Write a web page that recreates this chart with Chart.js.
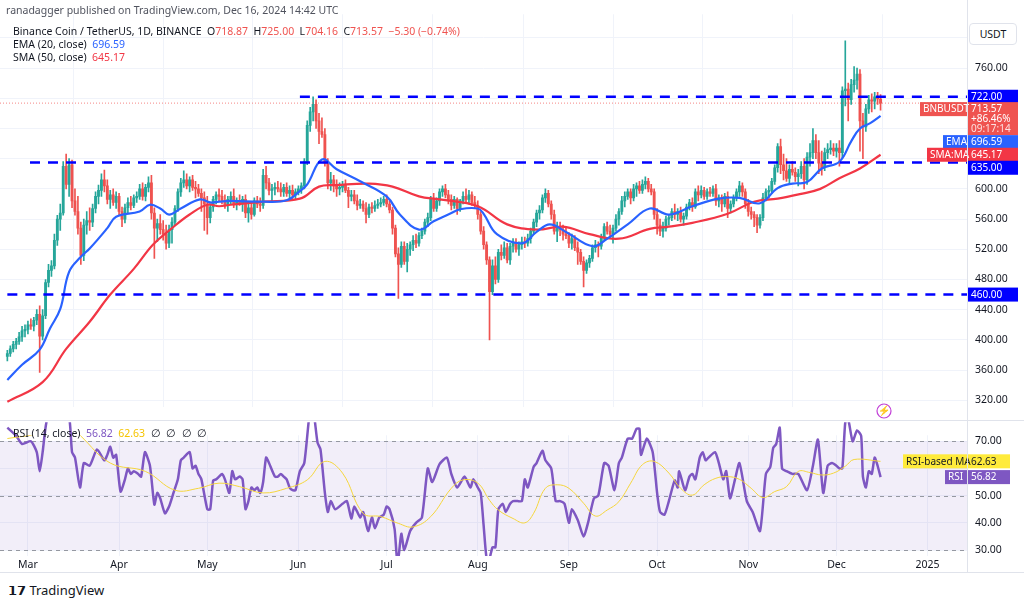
<!DOCTYPE html>
<html><head><meta charset="utf-8">
<script src="https://cdn.jsdelivr.net/npm/chart.js@4/dist/chart.umd.min.js"></script>
<style>
  body { margin: 0; width: 1024px; height: 603px; background: #fff; font-family: "Noto Sans", Roboto, sans-serif; position: relative; overflow: hidden; }
  canvas { position: absolute; left: 0; }
  #price { top: 0; } #rsi { top: 421px; }
  .t { position: absolute; font-size: 10.5px; color: #131722; white-space: nowrap; }
  .up { color: #ef5350; } .b { color: #2962ff; } .r { color: #f23645; }
  #usdt { position: absolute; left: 969px; top: 23px; width: 46px; height: 20px; border: 1px solid #e0e3eb; border-radius: 4px; font-size: 10.5px; text-align: center; line-height: 20px; background: #fff; color: #131722; }
  #frame { position: absolute; left: 0; top: 0; width: 1024px; height: 573px; border-bottom: 1px solid #e0e3eb; box-sizing: border-box; pointer-events: none; }
  #vline { position: absolute; left: 967px; top: 0; width: 1px; height: 573px; background: #e0e3eb; }
  #sep { position: absolute; left: 0; top: 420px; width: 1024px; height: 1px; background: #e0e3eb; }
</style></head>
<body>
<canvas id="price" width="1024" height="421"></canvas>
<canvas id="rsi" width="1024" height="152"></canvas>
<div id="frame"></div><div id="vline"></div><div id="sep"></div>
<div class="t" style="left:6px;top:3px;color:#50535e">ranadagger published on TradingView.com, Dec 16, 2024 14:42 UTC</div>
<div class="t" style="left:13px;top:24px">Binance Coin / TetherUS, 1D, BINANCE &nbsp;O<span class="up">718.87</span> &nbsp;H<span class="up">725.00</span> &nbsp;L<span class="up">704.16</span> &nbsp;C<span class="up">713.57 &nbsp;−5.30 (−0.74%)</span></div>
<div class="t" style="left:13px;top:37px">EMA (20, close) &nbsp;<span class="b">696.59</span></div>
<div class="t" style="left:13px;top:50px">SMA (50, close) &nbsp;<span class="r">645.17</span></div>
<div class="t" style="left:13px;top:426px">RSI (14, close) &nbsp;<span style="color:#7e57c2">56.82</span> &nbsp;<span style="color:#f5c400">62.63</span> &nbsp;∅ &nbsp;∅ &nbsp;∅ &nbsp;∅</div>
<div id="usdt">USDT</div>
<div class="t" style="left:8px;top:581px;font-size:13px;font-weight:bold">𝟭𝟳 <span style="font-weight:normal">TradingView</span></div>
<script>
// daily candles [open, high, low, close], first one is Feb 23 (day -7, Mar 1 = day 0)
const firstDay = -7;
const feb = [[378,386,372,382],[382,392,378,388],[388,398,384,394],[394,402,388,398],[398,410,394,404],[404,418,398,412],[412,420,404,414]];
const mar = [[414,425,408,420],[420,428,414,418],[418,430,412,426],[426,440,420,434],[434,445,357,405],[405,440,400,432],[432,480,428,476],[476,500,470,492],[492,505,484,498],[498,540,494,532],[532,565,525,560],[560,580,545,568],[568,636,565,630],[630,646,600,606],[606,640,590,632],[632,638,575,584],[584,600,565,570],[570,590,540,548],[548,556,500,512],[512,560,505,552],[552,570,540,558],[558,575,545,556],[556,580,550,574],[574,596,568,590],[590,605,580,598],[598,620,590,612],[612,625,596,604],[604,612,580,586],[586,598,574,592],[592,600,578,582],[582,596,574,590]];
const apr = [[590,594,565,570],[570,576,550,560],[560,580,555,575],[575,588,568,582],[582,590,572,578],[578,592,575,588],[588,596,582,590],[590,606,586,600],[600,608,585,590],[590,606,584,602],[602,616,596,608],[608,618,560,568],[568,575,508,548],[548,560,530,554],[554,566,540,546],[546,558,532,540],[540,552,520,528],[528,552,522,546],[546,562,528,556],[556,578,552,574],[574,600,570,596],[596,614,590,608],[608,624,602,612],[612,620,600,604],[604,616,596,612],[612,618,598,602],[602,610,588,600],[600,606,590,594],[594,600,570,588],[588,596,545,580]];
const may = [[580,590,540,562],[562,580,555,576],[576,590,570,586],[586,596,580,592],[592,600,584,590],[590,598,580,584],[584,592,574,578],[578,590,570,586],[586,596,580,590],[590,600,575,580],[580,588,572,584],[584,592,578,580],[580,590,570,586],[586,592,562,568],[568,580,556,575],[575,582,560,566],[566,588,564,584],[584,590,575,580],[580,588,570,578],[578,626,574,618],[618,630,600,608],[608,614,592,598],[598,606,582,600],[600,608,592,602],[602,610,596,600],[600,608,590,596],[596,606,590,602],[602,608,590,594],[594,604,588,598],[598,605,585,592],[592,600,586,596]];
const jun = [[596,604,592,600],[600,608,594,604],[604,640,600,636],[636,690,632,684],[684,708,676,702],[702,722,690,712],[712,718,680,690],[690,700,660,676],[676,694,668,672],[672,680,630,634],[634,640,600,608],[608,622,598,612],[612,618,596,604],[604,612,590,600],[600,608,592,602],[602,610,596,606],[606,612,595,598],[598,602,575,590],[590,598,584,592],[592,598,580,584],[584,592,572,578],[578,586,574,580],[580,584,570,574],[574,582,555,566],[566,580,562,576],[576,582,568,574],[574,584,570,578],[578,586,574,580],[580,588,576,582],[582,590,578,586]];
const jul = [[586,592,576,580],[580,584,568,572],[572,576,540,548],[548,552,510,514],[514,522,455,500],[500,530,496,524],[524,530,500,504],[504,528,490,520],[520,530,512,526],[526,538,518,532],[532,540,522,528],[528,542,524,538],[538,548,534,544],[544,560,540,556],[556,568,550,562],[562,590,558,586],[586,594,570,574],[574,588,570,584],[584,600,578,596],[596,604,590,600],[600,606,588,592],[592,598,580,586],[586,592,572,578],[578,590,574,586],[586,588,566,574],[574,586,570,584],[584,596,580,590],[590,600,582,586],[586,598,580,592],[592,596,578,582],[582,590,574,578]];
const aug = [[578,584,560,566],[566,570,540,544],[544,550,520,526],[526,530,500,506],[506,510,400,464],[464,506,460,498],[498,510,474,480],[480,520,476,516],[516,526,506,512],[512,530,508,522],[522,528,502,506],[506,528,500,524],[524,534,516,528],[528,534,516,520],[520,530,512,526],[526,536,520,530],[530,536,522,528],[528,540,524,534],[534,548,528,544],[544,560,540,556],[556,572,550,568],[568,578,560,572],[572,592,568,588],[588,600,582,594],[594,598,576,580],[580,584,560,566],[566,572,540,544],[544,556,530,550],[550,556,538,546],[546,552,532,540],[540,548,534,538]];
const sep = [[538,542,522,528],[528,540,520,534],[534,538,518,522],[522,530,500,516],[516,520,500,504],[504,510,470,492],[492,506,488,502],[502,512,496,508],[508,526,504,522],[522,532,516,526],[526,530,510,524],[524,540,520,536],[536,554,532,550],[550,556,540,544],[544,552,536,540],[540,552,528,548],[548,566,544,560],[560,574,552,570],[570,590,566,584],[584,596,576,590],[590,600,586,596],[596,600,580,588],[588,606,584,600],[600,608,590,604],[604,610,594,598],[598,612,594,606],[606,616,600,610],[610,614,596,600],[600,606,592,596],[596,600,560,566]];
const oct = [[566,574,540,552],[552,560,538,544],[544,556,536,548],[548,564,544,560],[560,566,552,562],[562,574,558,570],[570,580,560,566],[566,574,558,570],[570,576,556,560],[560,568,552,564],[564,580,560,576],[576,586,572,582],[582,588,570,576],[576,600,574,596],[596,604,584,592],[592,604,588,598],[598,602,586,590],[590,600,586,596],[596,602,590,594],[594,604,590,600],[600,606,578,584],[584,592,576,588],[588,592,570,580],[580,594,576,590],[590,596,562,574],[574,584,568,580],[580,592,576,588],[588,600,584,596],[596,610,590,604],[604,608,590,596],[596,600,574,580]];
const nov = [[580,586,564,570],[570,576,560,566],[566,570,550,562],[562,566,542,552],[552,566,548,562],[562,594,558,588],[588,600,584,596],[596,604,588,598],[598,614,594,610],[610,632,606,628],[628,660,622,656],[656,666,620,632],[632,646,612,624],[624,640,610,614],[614,632,606,626],[626,636,618,622],[622,628,610,616],[616,626,604,620],[620,636,614,630],[630,640,600,612],[612,648,606,642],[642,660,630,648],[648,680,640,664],[664,672,640,648],[648,664,620,634],[634,650,618,628],[628,654,624,648],[648,660,640,652],[652,664,646,654],[654,660,644,650]];
const dec = [[650,660,642,654],[654,664,630,648],[648,735,640,730],[730,796,710,732],[732,740,690,718],[718,745,712,738],[738,762,728,744],[744,760,732,752],[752,758,650,690],[690,700,640,682],[682,712,676,706],[706,724,700,718],[718,726,702,716],[716,728,706,722],[722,728,712,719],[718.87,725,704.16,713.57]];

const emaDays = [-7,-2,4,7.5,11,14,18,21,27,30,38,41.5,45,48,52,58.5,62,65,69,80,88,92.5,95,100,105,113,122,126.5,133,138,143.5,147,153,155,159.5,168,173,177.5,183,192,197,204,211.5,218,226,235,242,249,255,260,265,270,276,280,283,286.5,290];
const emaVals = [347,367,387,415,441,490,510,521,548,563,570,579,574,566,574,586,582,583,584,583,585,597,606,639,626,610,590,566,546,557,567,573,574,567,540,528,543,553,543,524,534,553,574,566,577,587,588,581,601,607,609,627,636,663,680,687,696.59];
const smaDays = [-7,5,13,21,28,36,42.5,49,55,61,65,69,80,92.5,99,105,116,124,133,140,153,163,173,182,191,201,211.5,218,226,238,247,255,262.5,269.5,276,283,290];
const smaVals = [318,344,388,424,460,494,526,548,566,579,577,579,583,587,603,605,607,603,590,586,577,553,546,550,540,534,547,550,555,567,583,587,593,600,614,627,645.17];

const rsiDays = [-7,-4,-2,1,3,4,5,6.5,9,12,14,15,16,17.7,19,21,23.5,26,27,28,29,30,31.5,33,34,35,36,37.5,38.5,39.8,41.5,43,44,45,46.6,48,49.5,51,52,53,55,56,57,58,59,61,62,63,64,65,66,67,68.5,69.5,70.5,72,73,74,75,76,77,78,79,80,81,82,84,85,86,87,88,89,90,91,92.5,94,96,97,98.5,99.5,101,102,103,104.5,107,108.5,110,111,113,114,115.7,117,118,119.5,121,122,123,124.7,125.5,126,127,128,130,132,134,136,137.5,140,142.5,144,146,148.5,150.5,151.5,153,154,155,156,157,158,159,160,161.5,162.5,164,165,166.5,168,169,170,172,173,175,176,178,179.5,181,182.5,184,185,187,189,190.5,192.5,194,196,197.5,199.5,201,202,204,205.5,207,208,208.5,210.5,212.5,214,215,216.5,218,220,221,221.5,223.5,225,226,227,228.5,229.5,230.5,231.5,233.7,235,236.5,237.5,238.8,240.5,242,244.5,246.5,249,251,252.5,253.5,254.5,255.7,256.5,258,260,262,265,267,268.7,270.5,272,273.5,275,276,277,278,279,280.5,282,283.4,284,285,286,287,288,289,290];
const rsiVals = [75,72,69,70,66,59,66,78,80,80,79,66,64,53,62,61,67,63,65,68,64,65,51.5,56,60,58,59,58,57,66,61,46.7,51,49,43.5,46,51,56,63,64,66,60,61,58,56,45,45,55.6,56,57,58,56,51,59,56,57,56,45,48,53,52,53,51,55,64,62,57,57,58,57,56,53,52,52,59,62,82,82,69.5,67,51,44,48,45,47,48,41.6,46,42,44,37,42,38,42,43,46,45,37.8,27,27,36,30,37,40,42,60,55,61.6,64,58,53,57,53,56,53,51,39,27,27,31,31,45,47,44,47,48,48,48,56,53,60.6,62,66.5,63,60,48,48,47,40,45,41,35,40,49,50,62,61,52,62,64,71,71,74.6,74.6,65,71,66,51,44,43,48,55.6,53,59,52,57,58,56,64,66,63,64,66,62,56,59,49,56,62,48,44,37,58,60.6,67.6,69,75,60,59,58,58,52,61,70.6,51,61,62,61,60,60,77,78,70,74,72,57,53,59,58,64,61,56.82];
const maDays = [-7,4,13,18,28,40,50,58,65,72,80,88,95,101,107,114,120,126,131,137,144,148,153,157,160,165,169,172,176,180,184,189,193,197,201,205,209,213,218,222,226,230,234,238,242,246,250,254,258,262,266,270,274,278,281,290];
const maVals = [71,73,76.9,71.9,62,58.9,52,52.7,54.6,53.3,51,52.7,55.8,62.6,58.3,43.5,42.3,39.8,38.5,42.3,52.7,55.8,54.6,48.3,44.7,41.6,40,43.5,52.7,54,52.7,47.2,42.5,44.7,47.8,54.6,61.4,62.6,58.3,52.7,50.2,54,56.4,57,56,52.7,49.3,51.5,53.3,58.9,58.5,57.6,58.3,60.8,63.3,62.63];

const levels = [722, 635, 460];
const levelStart = [92.5, 0.7, -7];
const lastPrice = 713.57;
const monthTicks = [0, 31, 61, 92, 122, 153, 184, 214, 245, 275, 306];
const monthNames = ['Mar', 'Apr', 'May', 'Jun', 'Jul', 'Aug', 'Sep', 'Oct', 'Nov', 'Dec', '2025'];
const priceTicks = [320, 360, 400, 440, 480, 520, 560, 600, 640, 680, 720, 760, 800];
const priceHidden = [640, 680, 720, 800];

const candles = [].concat(feb, mar, apr, may, jun, jul, aug, sep, oct, nov, dec);
const UP = '#26a69a', DOWN = '#ef5350', GRID = '#f0f3fa';
const XMIN = -9.5, XMAX = 319.4;
const font = { family: '"Noto Sans", Roboto, sans-serif', size: 10.5 };
const col = candles.map((c) => (c[3] >= c[0] ? UP : DOWN));
const pts = (xs, ys) => xs.map((x, i) => ({ x, y: ys[i] }));

function badge(ctx, y, text, bg, fg, x, w) {
  ctx.fillStyle = bg; ctx.fillRect(x, y - 7, w, 14);
  ctx.fillStyle = fg; ctx.font = '10px "Noto Sans", sans-serif';
  ctx.textBaseline = 'middle'; ctx.textAlign = 'left';
  ctx.fillText(text, x + 3, y + 0.5);
}

const priceBadges = {
  id: 'priceBadges',
  afterDraw(chart) {
    const { ctx } = chart; const y = chart.scales.y;
    ctx.save();
    badge(ctx, y.getPixelForValue(722), '722.00', '#0000ff', '#fff', 968, 50);
    badge(ctx, y.getPixelForValue(460), '460.00', '#0000ff', '#fff', 968, 50);
    const ly = y.getPixelForValue(lastPrice) + 6;
    ctx.fillStyle = '#ef5350'; ctx.fillRect(968, ly - 7, 50, 33);
    ctx.fillStyle = '#fff'; ctx.font = '10px "Noto Sans", sans-serif'; ctx.textBaseline = 'middle'; ctx.textAlign = 'left';
    ctx.fillText('713.57', 971, ly + 0.5); ctx.fillText('+86.46%', 971, ly + 10.5); ctx.fillStyle = '#fde0df'; ctx.fillText('09:17:14', 971, ly + 20.5);
    badge(ctx, ly, 'BNBUSDT', '#ef5350', '#fff', 920, 47);
    const ey = Math.max(y.getPixelForValue(696.59), ly + 33);
    badge(ctx, ey, '696.59', '#2962ff', '#fff', 968, 50);
    badge(ctx, ey, 'EMA', '#2962ff', '#fff', 943, 25);
    const sy = y.getPixelForValue(645.17);
    badge(ctx, sy, '645.17', '#f23645', '#fff', 968, 50);
    badge(ctx, sy, 'SMA:MA', '#f23645', '#fff', 927, 40);
    badge(ctx, Math.max(y.getPixelForValue(635), sy + 13), '635.00', '#0000ff', '#fff', 968, 50);
    ctx.strokeStyle = '#c13fd6'; ctx.lineWidth = 1.2;
    ctx.beginPath(); ctx.arc(884, 411, 7, 0, Math.PI * 2); ctx.stroke();
    ctx.fillStyle = '#c13fd6'; ctx.font = '10px sans-serif'; ctx.textAlign = 'center'; ctx.fillText('⚡', 884, 411);
    ctx.restore();
  },
};

const line = (data, color, width, extra) => Object.assign({ type: 'line', data, borderColor: color, borderWidth: width, pointRadius: 0, tension: 0.4, fill: false }, extra || {});

new Chart(document.getElementById('price'), {
  type: 'bar',
  data: {
    datasets: [
      { data: candles.map((c, i) => ({ x: firstDay + i, y: [c[2], c[1]] })), backgroundColor: col, barThickness: 1, grouped: false, order: 3 },
      { data: candles.map((c, i) => ({ x: firstDay + i, y: [c[0], c[3] === c[0] ? c[0] + 0.8 : c[3]] })), backgroundColor: col, barThickness: 2.2, grouped: false, order: 3 },
      line(pts(emaDays, emaVals), '#2962ff', 2.2, { order: 1 }),
      line(pts(smaDays, smaVals), '#f23645', 2.2, { order: 1 }),
      line([{ x: XMIN, y: lastPrice }, { x: XMAX, y: lastPrice }], 'rgba(239,83,80,0.7)', 1, { borderDash: [1, 2], tension: 0, order: 2 }),
      ...levels.map((v, i) => line([{ x: levelStart[i], y: v }, { x: XMAX, y: v }], '#0000ff', 2.5, { borderDash: [10, 8], tension: 0, order: 0 })),
    ],
  },
  options: {
    animation: false, responsive: false, events: [],
    layout: { padding: 0 },
    plugins: { legend: { display: false }, tooltip: { enabled: false } },
    scales: {
      x: { type: 'linear', min: XMIN, max: XMAX, offset: false,
        afterBuildTicks: (s) => { s.ticks = monthTicks.map((v) => ({ value: v })); },
        afterFit: (s) => { s.height = 0; },
        ticks: { display: false }, grid: { color: GRID, drawTicks: false }, border: { display: false } },
      y: { position: 'right', min: 311.5, max: 831.2,
        afterBuildTicks: (s) => { s.ticks = priceTicks.map((v) => ({ value: v })); },
        afterFit: (s) => { s.width = 57; },
        ticks: { color: '#131722', font, padding: 8, callback: (v) => (priceHidden.includes(v) ? '' : v.toFixed(2)) },
        grid: { color: GRID, drawTicks: false }, border: { display: false } },
    },
  },
  plugins: [priceBadges],
});

const rsiDecor = {
  id: 'rsiDecor',
  beforeDatasetsDraw(chart) {
    const { ctx, chartArea: a } = chart; const y = chart.scales.y;
    ctx.save();
    ctx.fillStyle = 'rgba(126,87,194,0.1)';
    ctx.fillRect(a.left, y.getPixelForValue(70), a.right - a.left, y.getPixelForValue(30) - y.getPixelForValue(70));
    ctx.strokeStyle = '#9598a1'; ctx.lineWidth = 1; ctx.setLineDash([4, 4]);
    [70, 50, 30].forEach((v) => { const p = Math.round(y.getPixelForValue(v)) + 0.5; ctx.beginPath(); ctx.moveTo(a.left, p); ctx.lineTo(a.right, p); ctx.stroke(); });
    ctx.restore();
  },
  afterDraw(chart) {
    const { ctx } = chart; const y = chart.scales.y;
    ctx.save();
    const my = y.getPixelForValue(62.63);
    badge(ctx, my, '62.63', '#ffeb3b', '#131722', 968, 42);
    badge(ctx, my, 'RSI-based MA', '#ffeb3b', '#131722', 903, 64);
    const ry = y.getPixelForValue(56.82);
    badge(ctx, ry, '56.82', '#7e57c2', '#fff', 968, 42);
    badge(ctx, ry, 'RSI', '#7e57c2', '#fff', 945, 22);
    ctx.restore();
  },
};

new Chart(document.getElementById('rsi'), {
  type: 'line',
  data: {
    datasets: [
      line(pts(maDays, maVals), '#f5d63d', 1, { tension: 0.4 }),
      line(pts(rsiDays, rsiVals), '#7e57c2', 2.5, { tension: 0.2, clip: { left: 0, right: 0, top: 13, bottom: 0 } }),
    ],
  },
  options: {
    animation: false, responsive: false, events: [],
    layout: { padding: 0 },
    plugins: { legend: { display: false }, tooltip: { enabled: false } },
    scales: {
      x: { type: 'linear', min: XMIN, max: XMAX,
        afterBuildTicks: (s) => { s.ticks = monthTicks.map((v) => ({ value: v })); },
        afterFit: (s) => { s.height = 17; },
        ticks: { color: '#131722', font, padding: 3, maxRotation: 0, autoSkip: false, callback: (v) => monthNames[monthTicks.indexOf(v)] },
        grid: { color: GRID, drawTicks: false }, border: { display: false } },
      y: { position: 'right', min: 27.8, max: 72.2,
        afterBuildTicks: (s) => { s.ticks = [30, 40, 50, 60, 70].map((v) => ({ value: v })); },
        afterFit: (s) => { s.width = 57; },
        ticks: { color: '#131722', font, padding: 8, callback: (v) => (v === 60 ? '' : v.toFixed(2)) },
        grid: { color: GRID, drawTicks: false }, border: { display: false } },
    },
  },
  plugins: [rsiDecor],
});
</script>
</body></html>
